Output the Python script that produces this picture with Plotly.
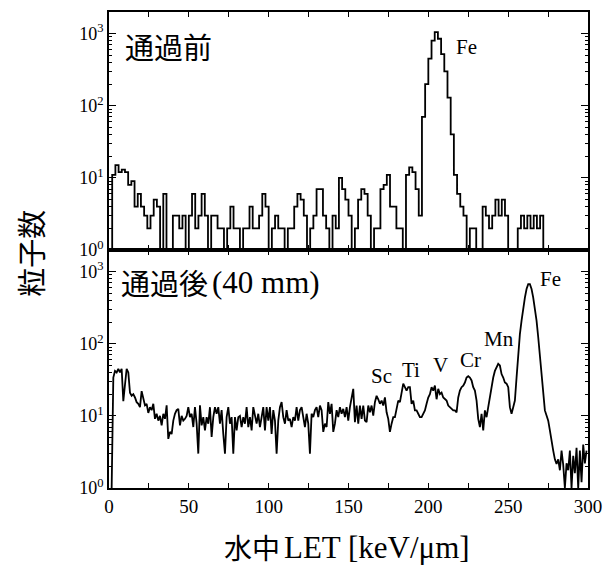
import numpy as np
import plotly.graph_objects as go

# ---------------- data ----------------
# Top panel: counts per LET bin before passage (bin width 2 keV/um, starting at 0)
BIN_WIDTH_BEFORE = 2.0
counts_before = [
    1, 11, 15, 12, 13, 12, 8, 9, 4, 6, 4, 3, 2, 3, 5, 4, 1, 6, 1, 1,
    3, 3, 2, 3, 1, 3, 6, 2, 3, 6, 3, 1, 3, 3, 2, 2, 1, 2, 4, 2,
    2, 1, 2, 2, 4, 2, 2, 3, 6, 4, 1, 2, 3, 2, 2, 1, 2, 2, 4, 6,
    5, 3, 1, 2, 3, 7, 7, 3, 2, 1, 3, 2, 10, 7, 5, 3, 1, 2, 5, 7,
    6, 3, 1, 2, 2, 7, 8, 11, 4, 4, 2, 2, 1, 11, 14, 12, 7, 3, 70, 200,
    450, 800, 1050, 850, 520, 300, 130, 40, 11, 6, 4, 3, 1, 2, 2, 1, 1, 4, 3, 2,
    3, 5, 3, 5, 3, 1, 1, 1, 2, 3, 2, 3, 2, 3, 2, 3, 1,
]

# Bottom panel: counts after 40 mm, sampled along LET
LET_AFTER_START = 1.66
LET_AFTER_STEP = 1.0436
counts_after = [
    1,
    34, 42, 40, 45, 40, 45, 16, 27, 45, 40, 21, 19, 20, 18, 15.5, 14.7, 13.2, 22, 18, 14,
    14.7, 11, 13.2, 12, 14.7, 9.1, 10.7, 8.6, 10, 7.4, 10.7, 9.1, 14, 4.8, 6, 5.6, 8.6, 10.7, 12, 12.5,
    7.4, 10, 8.6, 9.1, 10, 13.2, 9.6, 10.7, 7, 13.2, 7.8, 3, 14, 7.4, 9.6, 6.3, 9.6, 7.8, 13.2, 5.1,
    9.6, 13.2, 10.7, 13.2, 7.8, 12, 5.6, 3, 9.6, 13.2, 7.8, 9.6, 3, 9.6, 6.3, 9.6, 10, 7, 9.6, 7.8,
    13.2, 7, 9.6, 6.3, 13.2, 9.6, 7.8, 10.7, 7, 9.6, 13.2, 6.3, 13.2, 8.6, 13.2, 5.6, 12, 8.6, 3, 8.6,
    13.2, 15.5, 9.6, 7.8, 12, 8.6, 9.1, 7, 9.6, 8.6, 13.2, 8.6, 12, 13.2, 9.6, 7, 10.7, 7.8, 3, 10.7,
    9.6, 12, 13.2, 9.6, 13.9, 12, 6, 7.8, 7, 15.5, 10.7, 14.7, 6, 7.8, 12, 9.6, 13.2,
    10.7, 12.5, 9.6, 13.2, 8.6, 13.2, 18, 23.7, 8.2, 13.9, 7.8, 13.9, 9.1, 13.9, 8.6, 8.2, 13.9, 11.2, 13.9, 10.1,
    15.5, 19, 17, 14.7, 16.3, 13.9, 18, 11.2, 9.1, 6, 7.8, 9.6, 9.6, 11.9, 16.3, 15.5, 22.4, 28, 25, 22.4,
    25, 25, 14.7, 16.3, 11.9, 11.9, 10.7, 9.6, 9.6, 10.7, 11.9, 14.7, 18, 20, 25, 22.4, 26.3, 17, 23.7, 20,
    21, 18, 17, 16.3, 13.9, 13.2, 12.5, 11.9, 11.9, 11.2, 18, 22.4, 25, 26.3, 29, 34, 35.5, 34, 31, 25,
    22.4, 16.3, 9.1, 7, 10.7, 6.3, 11.9, 9.6, 13.2, 18, 28, 34, 42, 47, 52.6, 50, 38, 34, 29, 28,
    25, 13.2, 10.7, 13.2, 16.3, 34, 80, 136, 209, 318, 437, 574, 670, 670, 574, 437, 303, 209, 123, 72,
    38, 20, 11.9, 10.1, 8.6, 6.3, 4.3, 3.3, 2.5, 2.15, 2.5, 1.76, 3.3, 2.1, 1, 2.2, 1.76, 3.3, 1, 2.8,
    1.6, 3.6, 1, 3.3, 1.2, 4, 2.2, 3.3,
]

# Element peak labels (name, LET, count level)
before_labels = [("Fe", 223.6, 10 ** 2.82)]
after_labels = [
    ("Sc", 170.4, 10 ** 1.55),
    ("Ti", 189.1, 10 ** 1.64),
    ("V", 207.9, 10 ** 1.70),
    ("Cr", 226.1, 10 ** 1.78),
    ("Mn", 244.3, 10 ** 2.06),
    ("Fe", 276.8, 10 ** 2.90),
]

y_tickvals = [1, 10, 100, 1000]
y_ticktext = ["10<sup>0</sup>", "10<sup>1</sup>", "10<sup>2</sup>", "10<sup>3</sup>"]
y_minor = [m * 10 ** d for d in range(0, 4) for m in range(2, 10)]

# ---------------- figure ----------------
SERIF = "Liberation Serif"
CJK = "Noto Sans CJK JP"

edges_before = np.arange(len(counts_before) + 1) * BIN_WIDTH_BEFORE
y_step = list(counts_before) + [counts_before[-1]]
let_after = LET_AFTER_START + LET_AFTER_STEP * np.arange(len(counts_after))

fig = go.Figure()
fig.add_trace(go.Scatter(x=edges_before, y=y_step, mode="lines", line_shape="hv",
                         line=dict(color="black", width=1.8), xaxis="x", yaxis="y",
                         showlegend=False))
fig.add_trace(go.Scatter(x=let_after, y=counts_after, mode="lines",
                         line=dict(color="black", width=1.8), xaxis="x2", yaxis="y2",
                         showlegend=False))

xcommon = dict(range=[0, 300], showline=True, linecolor="black", linewidth=1.5,
               mirror="ticks", ticks="inside", ticklen=5, tickwidth=1.2, tickcolor="black",
               dtick=50, tick0=0, showgrid=False, zeroline=False,
               minor=dict(dtick=25, tick0=0, ticks="inside", ticklen=5, tickwidth=1.2,
                          tickcolor="black", showgrid=False),
               tickfont=dict(family=SERIF, size=19, color="black"))
ycommon = dict(type="log", range=[0, 3.3], showline=True, linecolor="black", linewidth=1.5,
               mirror="ticks", ticks="inside", ticklen=7, tickwidth=1.2, tickcolor="black",
               tickvals=y_tickvals, ticktext=y_ticktext, showgrid=False, zeroline=False,
               minor=dict(tickvals=y_minor, ticks="inside", ticklen=3.5, tickwidth=1,
                          tickcolor="black", showgrid=False),
               tickfont=dict(family=SERIF, size=18, color="black"))

fig.update_layout(
    width=614, height=568,
    margin=dict(l=109, r=26, t=10, b=80),
    paper_bgcolor="white", plot_bgcolor="white",
    xaxis=dict(xcommon, anchor="y", domain=[0, 1], showticklabels=False),
    yaxis=dict(ycommon, anchor="x", domain=[0.5, 1]),
    xaxis2=dict(xcommon, anchor="y2", domain=[0, 1]),
    yaxis2=dict(ycommon, anchor="x2", domain=[0, 0.5]),
)

ann = []
for name, lx, ly in before_labels:
    ann.append(dict(text=name, x=lx, y=np.log10(ly), xref="x", yref="y", showarrow=False,
                    font=dict(family=SERIF, size=21, color="black")))
for name, lx, ly in after_labels:
    ann.append(dict(text=name, x=lx, y=np.log10(ly), xref="x2", yref="y2", showarrow=False,
                    font=dict(family=SERIF, size=21, color="black")))


def paper_text(text, x, y, family, size, xanchor="left", angle=0):
    return dict(text=text, x=x, y=y, xref="paper", yref="paper", xanchor=xanchor,
                yanchor="middle", showarrow=False, textangle=angle,
                font=dict(family=family, size=size, color="black"))


ann.append(paper_text("通過前", 0.029, 0.928, CJK, 29))
ann.append(paper_text("通過後", 0.211, 0.433, CJK, 29, xanchor="right"))
ann.append(paper_text("(40 mm)", 0.211, 0.431, SERIF, 31, xanchor="left"))
ann.append(paper_text("粒子数", -0.165, 0.494, CJK, 29, xanchor="center", angle=-90))
ann.append(paper_text("水中", 0.361, -0.1234, CJK, 28, xanchor="right"))
ann.append(paper_text("LET [keV/μm]", 0.361, -0.1254, SERIF, 31, xanchor="left"))
fig.update_layout(annotations=ann)

fig.write_html("out.html", config={"displayModeBar": False},
               post_script="document.body.style.margin='0';")
